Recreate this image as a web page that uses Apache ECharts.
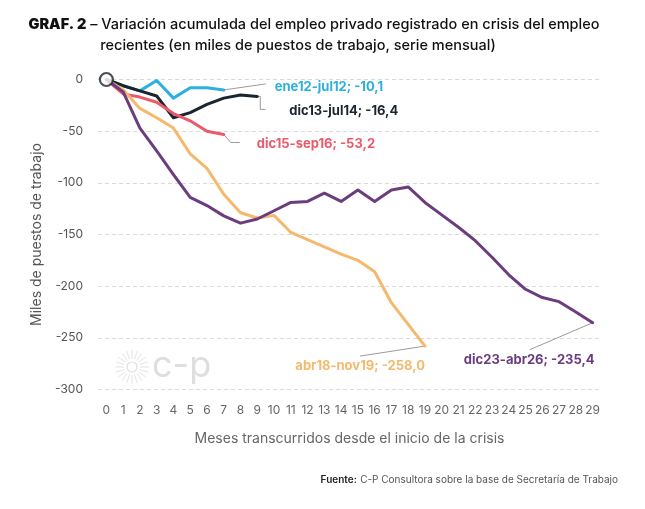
<!DOCTYPE html>
<html lang="es">
<head>
<meta charset="UTF-8">
<title>Variación acumulada del empleo privado registrado</title>
<script src="https://cdn.jsdelivr.net/npm/echarts@6/dist/echarts.min.js"></script>
<style>
  html, body { margin: 0; padding: 0; background: #fff; }
  #chart { width: 645px; height: 509px; }
</style>
</head>
<body>
<div id="chart"></div>
<script>
// meses desde el inicio de cada crisis
const months = ['0','1','2','3','4','5','6','7','8','9','10','11','12','13','14',
  '15','16','17','18','19','20','21','22','23','24','25','26','27','28','29'];

// variación acumulada, miles de puestos
const ene12jul12 = [0, -6, -11, -1, -18, -8, -8, -10.1];
const dic13jul14 = [0, -6, -11, -16, -37, -32, -24, -18, -15, -16.4];
const dic15sep16 = [0, -14, -17, -22, -33, -40, -50, -53.2];
const abr18nov19 = [0, -10, -28, -37, -47, -72, -86, -111, -129, -134, -131.5, -148, -155,
  -162, -169, -175, -186, -216, -237, -258.0];
const dic23abr26 = [0, -12, -47, -69, -92, -114, -122, -132, -139, -135, -127, -119, -118,
  -110, -118, -107, -118, -107, -104, -119, -131, -143, -156, -172, -189, -203, -211,
  -215, -225, -235.4];

const yTicks = { min: -300, max: 0, step: 50 };

const FONT = 'Inter';

const seriesDefs = [
  { name: 'ene12-jul12; -10,1', data: ene12jul12, color: '#2bb0e0' },
  { name: 'dic13-jul14; -16,4', data: dic13jul14, color: '#1b2530' },
  { name: 'dic15-sep16; -53,2', data: dic15sep16, color: '#eb5a6a' },
  { name: 'abr18-nov19; -258,0', data: abr18nov19, color: '#f4b96d' },
  { name: 'dic23-abr26; -235,4', data: dic23abr26, color: '#6b3d7e' }
];

// donde va cada etiqueta respecto del último punto (px) y su línea guía
const labelPlacement = [
  { dx: 51, dy: -3, align: 'left', guide: [[0, 0], [42, -6]] },
  { dx: 32, dy: 15, align: 'left', guide: [[0, 0], [3, 0], [3, 13], [8, 13]] },
  { dx: 33, dy: 10, align: 'left', guide: [[0, 0], [7, 8], [16, 8]] },
  { dx: 0, dy: 20, align: 'right', guide: [[0, 0], [-65, 10]] },
  { dx: 2, dy: 37, align: 'right', guide: [[0, 0], [-63, 27]] }
];

const chart = echarts.init(document.getElementById('chart'));

const series = seriesDefs.map(s => ({
  name: s.name,
  type: 'line',
  data: s.data,
  symbol: 'none',
  smooth: false,
  z: 3,
  lineStyle: { color: s.color, width: 3, join: 'round', cap: 'round' },
  itemStyle: { color: s.color }
}));

// círculo de origen
series.push({
  type: 'scatter',
  data: [[0, 0]],
  symbol: 'circle',
  symbolSize: 13,
  z: 5,
  itemStyle: { color: '#fff', borderColor: '#1b2530', borderWidth: 2.2 }
});

chart.setOption({
  animation: false,
  textStyle: { fontFamily: FONT },
  grid: { left: 98, top: 79.5, width: 503, height: 310 },
  xAxis: {
    type: 'category',
    data: months,
    boundaryGap: true,
    name: 'Meses transcurridos desde el inicio de la crisis',
    nameLocation: 'middle',
    nameGap: 42,
    nameTextStyle: { fontSize: 14, color: '#666', fontFamily: FONT },
    axisLine: { show: false },
    axisTick: { show: false },
    axisLabel: { interval: 0, fontSize: 12, color: '#666', margin: 15, fontFamily: FONT }
  },
  yAxis: {
    type: 'value',
    min: yTicks.min,
    max: yTicks.max,
    interval: yTicks.step,
    name: 'Miles de puestos de trabajo',
    nameLocation: 'middle',
    nameGap: 51,
    nameTextStyle: { fontSize: 14, color: '#555', fontFamily: FONT },
    axisLine: { show: false },
    axisTick: { show: false },
    axisLabel: { fontSize: 12, color: '#555', margin: 15, fontFamily: FONT },
    splitLine: { lineStyle: { color: '#d9d9d9', type: [4, 3], width: 1 } }
  },
  series: series
});

// etiquetas, guías, títulos y marca de agua
const graphics = [];

seriesDefs.forEach((s, i) => {
  const last = s.data.length - 1;
  const [ex, ey] = chart.convertToPixel({ seriesIndex: i }, [last, s.data[last]]);
  const p = labelPlacement[i];
  graphics.push({
    type: 'polyline',
    z: 2,
    shape: { points: p.guide.map(([gx, gy]) => [ex + gx, ey + gy]) },
    style: { stroke: '#9a9a9a', lineWidth: 1, fill: null }
  });
  graphics.push({
    type: 'text',
    z: 6,
    x: ex + p.dx,
    y: ey + p.dy,
    style: {
      text: s.name,
      fill: s.color,
      font: 'bold 13px ' + FONT,
      align: p.align,
      verticalAlign: 'middle'
    }
  });
});

// marca de agua c-p
const sunX = 132, sunY = 367;
graphics.push({
  type: 'circle', z: 1,
  shape: { cx: sunX, cy: sunY, r: 5 },
  style: { stroke: '#e0e0e0', lineWidth: 1.2, fill: null }
});
for (let k = 0; k < 20; k++) {
  const a = k * Math.PI / 10;
  graphics.push({
    type: 'line', z: 1,
    shape: {
      x1: sunX + Math.cos(a) * 8, y1: sunY + Math.sin(a) * 8,
      x2: sunX + Math.cos(a) * 17, y2: sunY + Math.sin(a) * 17
    },
    style: { stroke: '#e3e3e3', lineWidth: 1 }
  });
}
graphics.push({
  type: 'text', z: 1,
  x: 152, y: 366,
  style: { text: 'c-p', fill: '#dedede', font: '400 36px ' + FONT, verticalAlign: 'middle' }
});

// título
graphics.push({
  type: 'text',
  x: 314, y: 25,
  style: {
    text: '{a|GRAF. 2}{b| – Variación acumulada del empleo privado registrado en crisis del empleo}',
    align: 'center',
    verticalAlign: 'middle',
    rich: {
      a: { font: '900 14.5px ' + FONT, fill: '#111' },
      b: { font: '500 14.5px ' + FONT, fill: '#111' }
    }
  }
});
graphics.push({
  type: 'text',
  x: 298, y: 46,
  style: {
    text: 'recientes (en miles de puestos de trabajo, serie mensual)',
    font: '500 14.5px ' + FONT,
    fill: '#111',
    align: 'center',
    verticalAlign: 'middle'
  }
});

// fuente
graphics.push({
  type: 'text',
  x: 618, y: 480,
  style: {
    text: '{a|Fuente:} {b|C-P Consultora sobre la base de Secretaría de Trabajo}',
    align: 'right',
    verticalAlign: 'middle',
    rich: {
      a: { font: '600 10px ' + FONT, fill: '#222' },
      b: { font: '400 10px ' + FONT, fill: '#555' }
    }
  }
});

chart.setOption({ graphic: graphics });
</script>
</body>
</html>
